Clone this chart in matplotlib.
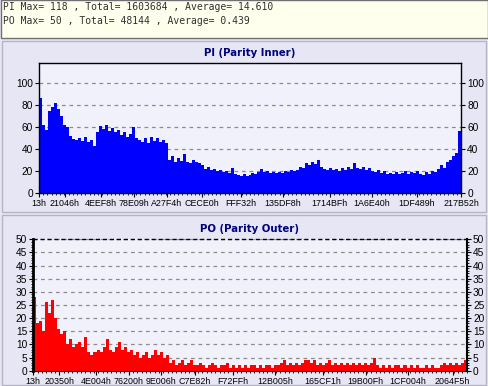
import numpy as np
import matplotlib
matplotlib.use("Agg")
import matplotlib.pyplot as plt
from matplotlib.patches import Rectangle

# header lines
info_pi = "PI Max= 118 , Total= 1603684 , Average= 14.610"
info_po = "PO Max= 50 , Total= 48144 , Average= 0.439"

# address range of both charts
addr_start = "13h"
addr_end = "217B52h"

pi_ticks = ["13h", "21046h", "4EEF8h", "78E09h", "A27F4h", "CECE0h", "FFF32h",
            "135DF8h", "1714BFh", "1A6E40h", "1DF489h", "217B52h"]
po_ticks = ["13h", "20350h", "4E004h", "76200h", "9E006h", "C7E82h", "F72FFh",
            "12B005h", "165CF1h", "19B00Fh", "1CF004h", "2064F5h"]

# PI counts per address bin
pi_vals = [86, 62, 57, 74, 78, 82, 76, 70, 62, 60,
           52, 49, 48, 50, 47, 51, 46, 48, 43, 55,
           61, 58, 62, 56, 59, 55, 57, 53, 55, 51,
           54, 60, 50, 48, 46, 50, 45, 51, 47, 50,
           46, 48, 45, 30, 34, 28, 32, 29, 35, 28,
           27, 30, 28, 27, 25, 22, 24, 21, 22, 20,
           21, 19, 20, 18, 23, 17, 16, 15, 17, 15,
           16, 18, 17, 19, 22, 19, 20, 18, 19, 18,
           19, 18, 20, 19, 21, 20, 21, 24, 23, 27,
           25, 28, 26, 30, 24, 22, 21, 23, 21, 22,
           20, 23, 21, 24, 22, 27, 23, 22, 24, 21,
           23, 20, 19, 21, 18, 20, 17, 18, 17, 19,
           17, 18, 20, 17, 19, 18, 20, 17, 16, 19,
           17, 20, 19, 22, 25, 23, 28, 30, 34, 36,
           56]

# PO counts per address bin
po_vals = [28, 18, 19, 15, 26, 22, 27, 20, 16, 14,
           15, 10, 12, 9, 10, 11, 9, 13, 7, 6,
           7, 8, 7, 9, 12, 8, 7, 9, 11, 8,
           9, 7, 8, 6, 7, 5, 6, 7, 5, 6,
           8, 6, 7, 5, 6, 3, 4, 2, 3, 4,
           2, 3, 4, 2, 2, 3, 2, 1, 2, 3,
           2, 1, 2, 2, 3, 1, 2, 1, 2, 1,
           2, 1, 2, 2, 1, 2, 1, 2, 2, 1,
           2, 2, 3, 4, 2, 3, 2, 3, 2, 3,
           4, 4, 3, 4, 2, 3, 2, 3, 4, 2,
           3, 2, 3, 2, 3, 2, 3, 2, 3, 2,
           3, 2, 3, 5, 2, 1, 2, 1, 2, 1,
           2, 2, 1, 2, 1, 2, 1, 2, 1, 1,
           2, 1, 2, 1, 1, 2, 3, 2, 3, 2,
           3, 2, 3, 4]


def hexval(s):
    return int(s[:-1], 16)


W, H = 488, 386
fig = plt.figure(figsize=(W / 100, H / 100), dpi=100)
fig.patch.set_facecolor("#E6E6F4")

def fig_rect(x, y, w, h, fc, ec, lw=1.0):
    fig.patches.append(Rectangle((x / W, 1 - (y + h) / H), w / W, h / H,
                                 transform=fig.transFigure, facecolor=fc,
                                 edgecolor=ec, linewidth=lw, zorder=-10))

# header box and two panels
fig_rect(0.5, 0.5, 487, 37.5, "#FFFFEE", "#707070")
fig_rect(2, 41, 484, 171, "#E6E6F4", "#B4B4C4")
fig_rect(2, 215, 484, 170, "#E6E6F4", "#B4B4C4")

fig.text(3 / W, 1 - 7 / H, info_pi, family="DejaVu Sans Mono", size=7.0,
         va="center", ha="left", color="#303030")
fig.text(3 / W, 1 - 20.5 / H, info_po, family="DejaVu Sans Mono", size=7.0,
         va="center", ha="left", color="#303030")

fig.text(250 / W, 1 - 53.5 / H, "PI (Parity Inner)", size=7.3, weight="bold",
         color="#000080", ha="center", va="center")
fig.text(250 / W, 1 - 229 / H, "PO (Parity Outer)", size=7.3, weight="bold",
         color="#000080", ha="center", va="center")

x0, x1 = hexval(addr_start), hexval(addr_end)
label_font = dict(family="Liberation Sans", size=6.4)


def draw(ax, vals, color, ymax, ystep, tick_names):
    edges = np.linspace(x0, x1, len(vals) + 1)
    ax.set_facecolor("#F1F1FC")
    ax.bar(edges[:-1], vals, width=np.diff(edges), align="edge",
           color=color, linewidth=0, zorder=2)
    ax.set_xlim(x0, x1)
    ax.set_ylim(0, ymax)
    yt = np.arange(0, ymax + 1, ystep)
    ax.set_yticks(yt)
    for v in yt[1:]:
        ax.axhline(v, color="#8C8C8C", lw=0.9, ls=(0, (3, 3)), zorder=1)
    ax.set_xticks([hexval(t) for t in tick_names])
    ax.set_xticklabels(tick_names, **label_font)
    ax.set_xticks(np.linspace(x0, x1, 101), minor=True)
    ax.tick_params(axis="both", which="major", length=3, width=0.8, pad=1.5,
                   colors="black")
    ax.tick_params(axis="x", which="minor", length=1.5, width=0.6)
    ax.tick_params(axis="y", which="both", left=True, right=True,
                   labelleft=True, labelright=True)
    for lab in ax.get_yticklabels():
        lab.set_family("Liberation Sans")
        lab.set_size(7.3)


# PI chart
ax1 = fig.add_axes([39 / W, 1 - 193 / H, 422 / W, 130 / H])
draw(ax1, pi_vals, "#0000FF", 118, 20, pi_ticks)
for s in ax1.spines.values():
    s.set_linewidth(1.0)

# PO chart
ax2 = fig.add_axes([33.3 / W, 1 - 370.7 / H, 433.4 / W, 131.4 / H])
draw(ax2, po_vals, "#FF0000", 50, 5, po_ticks)
ax2.set_yticks(np.arange(0, 51, 1), minor=True)
ax2.tick_params(axis="y", which="minor", length=1.5, width=0.6,
                left=True, right=True)
ax2.spines["top"].set_visible(False)
ax2.axhline(50, color="black", lw=1.0, ls=(0, (3, 2)), zorder=3, clip_on=False)
ax2.spines["left"].set_linewidth(2.0)
ax2.spines["right"].set_linewidth(1.5)

fig.savefig("out.png", dpi=100, facecolor=fig.get_facecolor())
